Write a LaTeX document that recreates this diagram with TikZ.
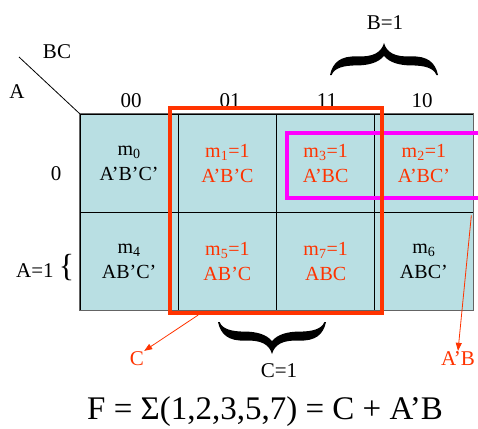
\documentclass[tikz,border=0pt]{standalone}
\usepackage{fontspec}
\setmainfont{Liberation Serif}
\usetikzlibrary{arrows.meta,calc,positioning}

\definecolor{kmapfill}{RGB}{185,223,227}
\definecolor{kred}{RGB}{255,51,0}
\definecolor{kmag}{RGB}{255,0,255}
\definecolor{kedge}{RGB}{100,100,100}

\newcommand{\cellfont}{\fontsize{20}{25}\selectfont}
\newcommand{\lblfont}{\fontsize{21}{24}\selectfont}
% curly brace, ends at (-1,0) and (1,0), tip at (0,1)
\newcommand{\kbrace}{%
  \fill (-1,0) .. controls (-0.95,0.4) and (-0.8,0.6) .. (-0.5,0.58)
    .. controls (-0.2,0.56) and (-0.05,0.7) .. (0,1)
    .. controls (0.05,0.7) and (0.2,0.56) .. (0.5,0.58)
    .. controls (0.8,0.6) and (0.95,0.4) .. (1,0)
    -- (0.97,0) .. controls (0.92,0.22) and (0.75,0.3) .. (0.5,0.3)
    .. controls (0.3,0.3) and (0.1,0.38) .. (0,0.6)
    .. controls (-0.1,0.38) and (-0.3,0.3) .. (-0.5,0.3)
    .. controls (-0.75,0.3) and (-0.92,0.22) .. (-0.97,0) -- cycle;}

\begin{document}
\begin{tikzpicture}[x=1pt,y=-1pt,
  cell/.style={draw=black, line width=0.7pt, fill=kmapfill, minimum width=98.25pt,
    minimum height=98pt, inner sep=0pt, align=center, font=\cellfont},
  one/.style={text=kred},
  lbl/.style={font=\lblfont, inner sep=0pt, anchor=base},
  grp/.style={draw=#1, line width=4pt, inner sep=0pt},
  ptr/.style={draw=kred, line width=0.8pt, -{Triangle[length=8pt,width=6pt]}}]
  \useasboundingbox (0,0) rectangle (478,428);

  % cells, A=0
  \node[cell] (m0) at (129.125,163) {m\textsubscript{0}\\A’B’C’};
  \node[cell,one] (m1) at (227.375,163) {m\textsubscript{1}=1\\A’B’C};
  \node[cell,one] (m3) at (325.625,163) {m\textsubscript{3}=1\\A’BC};
  \node[cell,one] (m2) at (423.875,163) {m\textsubscript{2}=1\\A’BC’};
  % cells, A=1
  \node[cell] (m4) at (129.125,261) {m\textsubscript{4}\\AB’C’};
  \node[cell,one] (m5) at (227.375,261) {m\textsubscript{5}=1\\AB’C};
  \node[cell,one] (m7) at (325.625,261) {m\textsubscript{7}=1\\ABC};
  \node[cell] (m6) at (423.875,261) {m\textsubscript{6}\\ABC’};
  \draw[kedge, line width=1.5pt] (m0.north west) rectangle (m6.south east);

  % corner
  \coordinate (diagEnd) at (19,57);
  \draw[line width=0.8pt] (diagEnd) -- (m0.north west);
  \node[lbl] (bc) at (57,58) {BC};
  \node[lbl] (a) at (17,98) {A};

  % column and row headings
  \node[lbl] (c00) at (131,107) {00};
  \node[lbl] (c01) at (230,107) {01};
  \node[lbl] (c11) at (327,107) {11};
  \node[lbl] (c10) at (422,107) {10};
  \node[lbl] (r0) at (56,180) {0};
  \node[lbl, anchor=base west] (r1) at (16,277) {A=1 \raisebox{1pt}{\fontsize{32}{32}\selectfont\{}};

  % B=1 and C=1
  \begin{scope}[shift={(384pt,-75pt)}, x=54pt, y=32pt]
    \kbrace
  \end{scope}
  \node[lbl] (bOne) at (385,30) {B=1};
  \begin{scope}[shift={(272pt,-322pt)}, x=54pt, y=-32pt]
    \kbrace
  \end{scope}
  \node[lbl] (cOne) at (279,377) {C=1};

  % groups
  \node[grp=kmag, minimum width=208pt, minimum height=65pt] (grpAB) at (391,165.5) {};
  \node[grp=kred, minimum width=212pt, minimum height=205pt] (grpC) at (276,210.5) {};

  \node[lbl, text=kred] (lblC) at (137,365) {C};
  \node[lbl, text=kred] (lblAB) at (458,365) {A’B};
  \draw[ptr] ($(grpC.south west)!0.14!(grpC.south east)$) -- (lblC.north east);
  \draw[ptr] ([xshift=-2pt,yshift=-3pt]m2.south east) -- (lblAB.north);

  \node[anchor=base, inner sep=0pt, font=\fontsize{33}{38}\selectfont] (formula)
    at (265,419) {F = Σ(1,2,3,5,7) = C + A’B};
\end{tikzpicture}
\end{document}
